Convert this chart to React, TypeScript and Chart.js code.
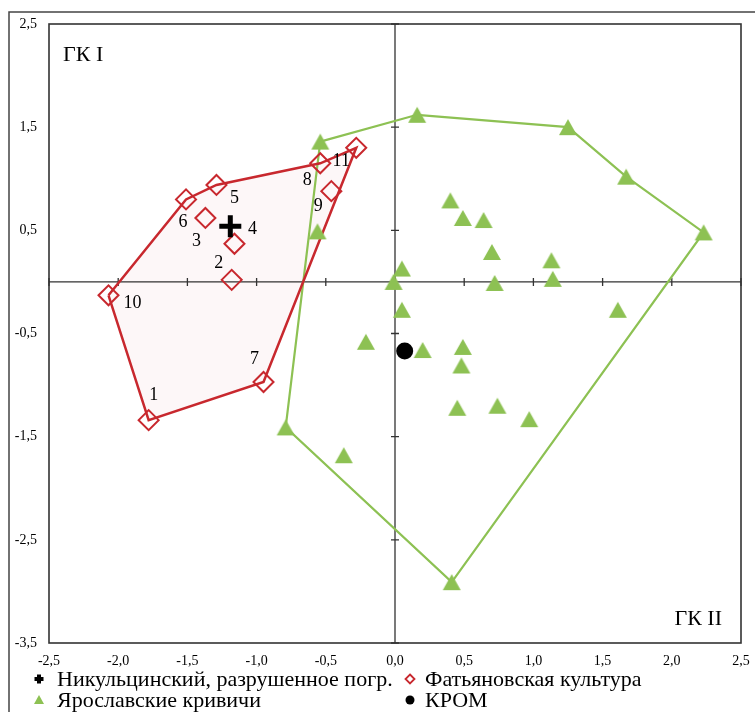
import React, { useEffect, useRef } from 'react';
import { Chart, registerables } from 'chart.js';

Chart.register(...registerables);

// ---------- data ----------
const xTickMin = -2.5;
const xTickMax = 2.5;
const xTickStep = 0.5;
const yTickMin = -3.5;
const yTickMax = 2.5;
const yTickStep = 1;

const seriesNames = [
  'Никульцинский, разрушенное погр.',
  'Фатьяновская культура',
  'Ярославские кривичи',
  'КРОМ',
];

const nikulX = [-1.19];
const nikulY = [0.54];

const fatyNumbers = ['1', '2', '3', '4', '5', '6', '7', '8', '9', '10', '11'];
const fatyX = [-1.78, -1.18, -1.37, -1.16, -1.29, -1.51, -0.95, -0.54, -0.46, -2.07, -0.28];
const fatyY = [-1.34, 0.02, 0.62, 0.37, 0.94, 0.8, -0.97, 1.15, 0.88, -0.13, 1.3];
const fatyHull = [9, 5, 4, 7, 10, 6, 0, 9];

const yarX = [
  -0.54, 0.16, 1.25, 1.67, 2.23, 0.41, -0.79, -0.56, 0.4, 0.49, 0.64, 0.7, 1.13, 0.05,
  -0.01, 0.72, 1.14, 0.05, 1.61, 0.2, 0.49, 0.48, 0.45, 0.74, 0.97, -0.21, -0.37,
];
const yarY = [
  1.36, 1.62, 1.5, 1.02, 0.48, -2.91, -1.41, 0.49, 0.79, 0.62, 0.6, 0.29, 0.21, 0.13,
  0.0, -0.01, 0.03, -0.27, -0.27, -0.66, -0.63, -0.81, -1.22, -1.2, -1.33, -0.58, -1.68,
];
const yarHull = [0, 1, 2, 3, 4, 5, 6, 0];

const kromX = [0.07];
const kromY = [-0.67];

const quadrantLabels = ['ГК I', 'ГК II'];

// ---------- styles ----------
const RED = '#c8282e';
const GREEN = '#8dc153';
const SERIF = '"Liberation Serif", "Times New Roman", serif';
// label offsets (px) of the point numbers relative to their markers
const fatyLabelOffsets: [number, number][] = [
  [5, -25], [-13, -17], [-9, 23], [18, -14], [18, 13], [-3, 23],
  [-9, -23], [-13, 17], [-13, 15], [24, 8], [-15, 13],
];

const toPts = (xs: number[], ys: number[]) => xs.map((x, i) => ({ x, y: ys[i] }));
const hullPts = (xs: number[], ys: number[], idx: number[]) => idx.map((i) => ({ x: xs[i], y: ys[i] }));
const fmt = (v: number) => Number(v).toFixed(1).replace('.', ',');

function makeTriangle(): HTMLCanvasElement {
  const c = document.createElement('canvas');
  c.width = 20;
  c.height = 18;
  const g = c.getContext('2d')!;
  g.fillStyle = GREEN;
  g.beginPath();
  g.moveTo(10, 1);
  g.lineTo(19, 17);
  g.lineTo(1, 17);
  g.closePath();
  g.fill();
  return c;
}

const overlay = {
  id: 'overlay',
  beforeDatasetsDraw(chart: any) {
    const { ctx, chartArea: a, scales } = chart;
    const x = scales.x;
    const y = scales.y;
    ctx.save();
    // red polygon fill
    const meta = chart.getDatasetMeta(4);
    ctx.beginPath();
    meta.data.forEach((p: any, i: number) => (i ? ctx.lineTo(p.x, p.y) : ctx.moveTo(p.x, p.y)));
    ctx.closePath();
    ctx.fillStyle = 'rgba(200,40,70,0.04)';
    ctx.fill();
    // zero axes
    const x0 = x.getPixelForValue(0);
    const y0 = y.getPixelForValue(0);
    ctx.strokeStyle = '#333';
    ctx.lineWidth = 1.3;
    ctx.beginPath();
    ctx.moveTo(x0, a.top);
    ctx.lineTo(x0, a.bottom);
    ctx.moveTo(a.left, y0);
    ctx.lineTo(a.right, y0);
    ctx.stroke();
    ctx.beginPath();
    y.ticks.forEach((t: any) => {
      const py = y.getPixelForValue(t.value);
      ctx.moveTo(x0 - 4, py);
      ctx.lineTo(x0 + 4, py);
    });
    x.ticks.forEach((t: any) => {
      const px = x.getPixelForValue(t.value);
      ctx.moveTo(px, y0 - 4);
      ctx.lineTo(px, y0 + 4);
    });
    ctx.stroke();
    ctx.restore();
  },
  afterDraw(chart: any) {
    const { ctx, chartArea: a } = chart;
    ctx.save();
    // plot box
    ctx.strokeStyle = '#333';
    ctx.lineWidth = 1.6;
    ctx.strokeRect(a.left, a.top, a.right - a.left, a.bottom - a.top);
    // outer frame
    ctx.strokeStyle = '#444';
    ctx.lineWidth = 1.5;
    ctx.beginPath();
    ctx.moveTo(9, chart.height + 5);
    ctx.lineTo(9, 12);
    ctx.lineTo(chart.width + 5, 12);
    ctx.stroke();

    // point numbers
    const meta = chart.getDatasetMeta(1);
    ctx.fillStyle = '#000';
    ctx.font = `18px ${SERIF}`;
    ctx.textAlign = 'center';
    ctx.textBaseline = 'middle';
    meta.data.forEach((p: any, i: number) => {
      const [dx, dy] = fatyLabelOffsets[i];
      ctx.fillText(fatyNumbers[i], p.x + dx, p.y + dy);
    });

    // quadrant labels
    ctx.font = `22px ${SERIF}`;
    ctx.textAlign = 'left';
    ctx.fillText(quadrantLabels[0], a.left + 14, a.top + 31);
    ctx.textAlign = 'right';
    ctx.fillText(quadrantLabels[1], a.right - 19, a.bottom - 24);

    // legend
    const rows = [679, 700];
    const mk = [39, 410];
    const tx = [57, 425];
    const items = [
      { col: 0, row: 0, kind: 'cross' },
      { col: 1, row: 0, kind: 'diamond' },
      { col: 0, row: 1, kind: 'tri' },
      { col: 1, row: 1, kind: 'circle' },
    ];
    ctx.font = `22px ${SERIF}`;
    ctx.textAlign = 'left';
    ctx.textBaseline = 'middle';
    items.forEach((it, i) => {
      const cx = mk[it.col];
      const cy = rows[it.row];
      ctx.save();
      if (it.kind === 'cross') {
        ctx.fillStyle = '#000';
        ctx.fillRect(cx - 4.5, cy - 2, 9, 4);
        ctx.fillRect(cx - 2, cy - 4.5, 4, 9);
      } else if (it.kind === 'diamond') {
        ctx.strokeStyle = RED;
        ctx.lineWidth = 1.8;
        ctx.beginPath();
        ctx.moveTo(cx, cy - 4.5);
        ctx.lineTo(cx + 4.5, cy);
        ctx.lineTo(cx, cy + 4.5);
        ctx.lineTo(cx - 4.5, cy);
        ctx.closePath();
        ctx.stroke();
      } else if (it.kind === 'tri') {
        ctx.fillStyle = GREEN;
        ctx.beginPath();
        ctx.moveTo(cx, cy - 5);
        ctx.lineTo(cx + 5, cy + 4);
        ctx.lineTo(cx - 5, cy + 4);
        ctx.closePath();
        ctx.fill();
      } else {
        ctx.fillStyle = '#000';
        ctx.beginPath();
        ctx.arc(cx, cy, 4.5, 0, Math.PI * 2);
        ctx.fill();
      }
      ctx.restore();
      ctx.fillStyle = '#000';
      ctx.fillText(seriesNames[i], tx[it.col], cy + 1);
    });
    ctx.restore();
  },
};

export default function App() {
  const ref = useRef<HTMLCanvasElement>(null);
  useEffect(() => {
    if (!ref.current) return;
    const tri = makeTriangle();
    const chart = new Chart(ref.current, {
      type: 'scatter',
      data: {
        datasets: [
          {
            label: seriesNames[0],
            data: toPts(nikulX, nikulY),
            pointStyle: 'cross',
            pointRadius: 11,
            borderWidth: 5,
            borderColor: '#000',
            backgroundColor: '#000',
          },
          {
            label: seriesNames[1],
            data: toPts(fatyX, fatyY),
            pointStyle: 'rectRot',
            pointRadius: 10,
            borderWidth: 2,
            borderColor: RED,
            backgroundColor: 'rgba(0,0,0,0)',
          },
          {
            label: seriesNames[2],
            data: toPts(yarX, yarY),
            pointStyle: tri as any,
            pointRadius: 10,
            borderWidth: 0,
            borderColor: GREEN,
            backgroundColor: GREEN,
          },
          {
            label: seriesNames[3],
            data: toPts(kromX, kromY),
            pointStyle: 'circle',
            pointRadius: 8.5,
            borderWidth: 0,
            borderColor: '#000',
            backgroundColor: '#000',
          },
          {
            label: 'hull-faty',
            data: hullPts(fatyX, fatyY, fatyHull),
            showLine: true,
            pointRadius: 0,
            borderColor: RED,
            borderWidth: 2.5,
            backgroundColor: 'rgba(0,0,0,0)',
            fill: false,
            tension: 0,
          },
          {
            label: 'hull-yar',
            data: hullPts(yarX, yarY, yarHull),
            showLine: true,
            pointRadius: 0,
            borderColor: GREEN,
            borderWidth: 2.2,
            backgroundColor: 'rgba(0,0,0,0)',
            fill: false,
            tension: 0,
          },
        ],
      },
      options: {
        responsive: false,
        animation: false,
        events: [],
        layout: { padding: { top: 24, right: 14, bottom: 45, left: 0 }, autoPadding: false } as any,
        plugins: {
          legend: { display: false },
          tooltip: { enabled: false },
        },
        scales: {
          x: {
            type: 'linear',
            min: xTickMin,
            max: xTickMax,
            grid: { display: false, drawTicks: false },
            border: { display: false },
            ticks: {
              stepSize: xTickStep,
              padding: 3,
              color: '#000',
              font: { family: SERIF, size: 14, lineHeight: 2.2 },
              callback: (v: any) => fmt(v),
              maxRotation: 0,
              autoSkip: false,
            },
            afterFit: (s: any) => {
              s.height = 24;
            },
          },
          y: {
            type: 'linear',
            min: yTickMin,
            max: yTickMax,
            grid: { display: false, drawTicks: false },
            border: { display: false },
            ticks: {
              stepSize: yTickStep,
              padding: 12,
              color: '#000',
              font: { family: SERIF, size: 14 },
              callback: (v: any) => fmt(v),
              autoSkip: false,
            },
            afterFit: (s: any) => {
              s.width = 49;
            },
          },
        },
      },
      plugins: [overlay],
    });
    return () => chart.destroy();
  }, []);
  return (
    <div style={{ position: 'fixed', left: 0, top: 0, width: 755, height: 712 }}>
      <canvas ref={ref} width={755} height={712} style={{ display: 'block' }} />
    </div>
  );
}
